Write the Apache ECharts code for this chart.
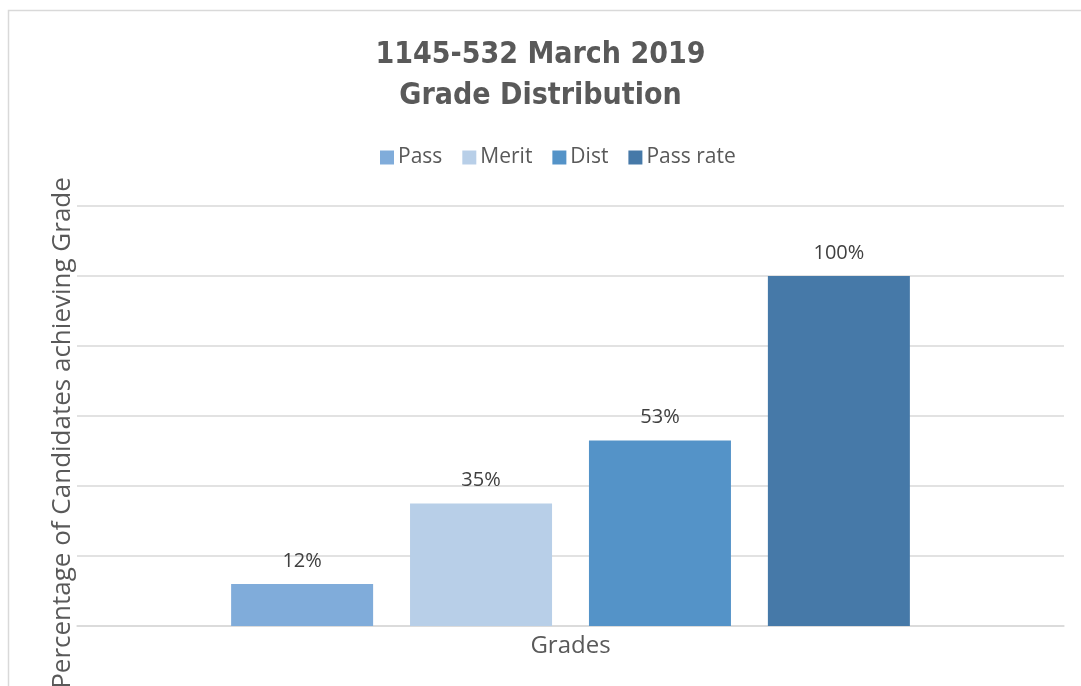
<!DOCTYPE html>
<html>
<head>
<meta charset="utf-8">
<script src="https://cdn.jsdelivr.net/npm/echarts@6/dist/echarts.min.js"></script>
<style>
html,body{margin:0;padding:0;background:#fff;}
#chart{width:1081px;height:686px;}
</style>
</head>
<body>
<div id="chart"></div>
<script>
// grade data
var categories = ['Grades'];
var seriesNames = ['Pass', 'Merit', 'Dist', 'Pass rate'];
var seriesValues = [12, 35, 53, 100];
var colors = ['#80acda', '#b8cfe8', '#5493c8', '#4679a8'];

var chart = echarts.init(document.getElementById('chart'));

var series = [];
for (var i = 0; i < seriesNames.length; i++) {
    series.push({
        name: seriesNames[i],
        type: 'bar',
        barWidth: 142,
        barGap: '26%',
        itemStyle: {color: colors[i]},
        label: {
            show: true,
            position: 'top',
            distance: 13,
            formatter: '{c}%',
            color: '#404040',
            fontSize: 20,
            fontFamily: 'Open Sans'
        },
        data: [seriesValues[i]]
    });
}

var option = {
    animation: false,
    color: colors,
    graphic: [{
        type: 'rect',
        shape: {x: 8.5, y: 10.5, width: 1090, height: 700},
        style: {fill: null, stroke: '#d9d9d9', lineWidth: 1.5},
        silent: true
    }],
    title: {
        text: '1145-532 March 2019\nGrade Distribution',
        left: 'center',
        top: 30,
        textStyle: {
            color: '#595959',
            fontSize: 30,
            fontWeight: 'bold',
            fontFamily: '"DejaVu Sans Condensed", sans-serif',
            lineHeight: 41
        }
    },
    legend: {
        data: seriesNames,
        top: 142,
        left: 375,
        itemWidth: 14,
        itemHeight: 14,
        itemGap: 20,
        icon: 'rect',
        textStyle: {color: '#595959', fontSize: 21, fontFamily: 'Open Sans', padding: [0, 0, 0, -1]}
    },
    grid: {left: 77, right: 17, top: 206, bottom: 60, containLabel: false, outerBoundsMode: 'none'},
    xAxis: {
        type: 'category',
        data: categories,
        axisLine: {lineStyle: {color: '#d9d9d9', width: 1.5}},
        axisTick: {show: false},
        axisLabel: {color: '#595959', fontSize: 24, fontFamily: 'Open Sans', margin: 8}
    },
    yAxis: {
        type: 'value',
        min: 0,
        max: 120,
        interval: 20,
        name: 'Percentage of Candidates achieving Grade',
        nameLocation: 'middle',
        nameGap: 1,
        nameTextStyle: {color: '#595959', fontSize: 26, fontFamily: 'Open Sans', padding: [0, 34, 0, 0]},
        axisLabel: {show: false},
        axisLine: {show: false},
        axisTick: {show: false},
        splitLine: {lineStyle: {color: '#d9d9d9', width: 1.5}}
    },
    series: series
};
chart.setOption(option);
</script>
</body>
</html>
